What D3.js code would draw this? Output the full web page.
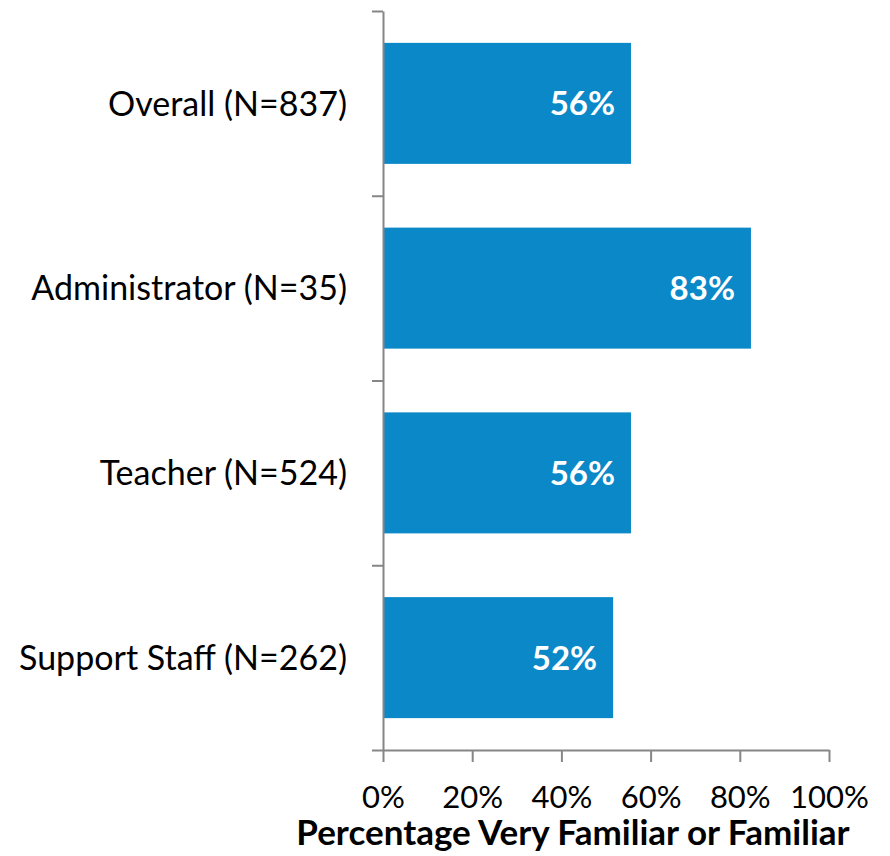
<!DOCTYPE html>
<html>
<head>
<meta charset="utf-8">
<script src="https://cdn.jsdelivr.net/npm/d3@7"></script>
<style>
  body { margin: 0; background: #fff; }
  svg text { font-family: Lato, "Open Sans", sans-serif; fill: #000; }
</style>
</head>
<body>
<div id="chart"></div>
<script>
// Data
const categories = ["Overall (N=837)", "Administrator (N=35)", "Teacher (N=524)", "Support Staff (N=262)"];
const values = [55.6, 82.5, 55.6, 51.6];
const xTicks = [0, 20, 40, 60, 80, 100];

const width = 890, height = 856;
const margin = { top: 11, right: 61, bottom: 106, left: 383 };
const innerWidth = width - margin.left - margin.right;
const innerHeight = height - margin.top - margin.bottom;
const barColor = "#0A88C8";
const axisColor = "#868686";

const svg = d3.select("#chart")
    .append("svg")
    .attr("width", width)
    .attr("height", height);

const innerChart = svg.append("g")
    .attr("transform", `translate(${margin.left},${margin.top})`);

/* scales */
const xScale = d3.scaleLinear()
    .domain([0, 100])
    .range([0, innerWidth]);

const yScale = d3.scaleBand()
    .domain(categories)
    .range([0, innerHeight])
    .paddingInner(0.345)
    .paddingOuter(0.1725);

const rows = categories.map((c, i) => ({ cat: c, val: values[i] }));

/* bars */
innerChart.selectAll("rect.bar")
    .data(rows)
    .join("rect")
        .attr("class", "bar")
        .attr("x", 0)
        .attr("y", d => yScale(d.cat))
        .attr("width", d => xScale(d.val))
        .attr("height", yScale.bandwidth())
        .attr("fill", barColor);

// value labels inside the bar end
innerChart.selectAll("text.val")
    .data(rows)
    .join("text")
        .attr("class", "val")
        .attr("x", d => xScale(d.val) - 16)
        .attr("y", d => yScale(d.cat) + yScale.bandwidth() / 2)
        .attr("dy", "0.36em")
        .attr("text-anchor", "end")
        .style("fill", "#fff")
        .style("font-weight", "bold")
        .style("font-size", "33px")
        .text(d => `${Math.round(d.val)}%`);

/* axes */
const bottomAxis = d3.axisBottom(xScale)
    .tickValues(xTicks)
    .tickFormat(d => `${d}%`)
    .tickSize(12)
    .tickSizeOuter(0)
    .tickPadding(24);

const xAxisG = innerChart.append("g")
    .attr("transform", `translate(0,${innerHeight})`)
    .call(bottomAxis);

// left axis: ticks at band boundaries, no labels on the ticks themselves
const leftAxis = d3.axisLeft(d3.scaleLinear().domain([0, categories.length]).range([0, innerHeight]))
    .ticks(categories.length)
    .tickFormat("")
    .tickSize(11)
    .tickSizeOuter(0);

const yAxisG = innerChart.append("g").call(leftAxis);

[xAxisG, yAxisG].forEach(g => {
    g.select(".domain").attr("stroke", axisColor).attr("stroke-width", 2);
    g.selectAll(".tick line").attr("stroke", axisColor).attr("stroke-width", 2);
});
xAxisG.selectAll(".tick text")
    .style("font-size", "31px")
    .style("font-family", "Lato, sans-serif")
    .attr("fill", "#000");

// category labels
innerChart.selectAll("text.cat")
    .data(rows)
    .join("text")
        .attr("class", "cat")
        .attr("x", -36)
        .attr("y", d => yScale(d.cat) + yScale.bandwidth() / 2)
        .attr("dy", "0.36em")
        .attr("text-anchor", "end")
        .style("font-size", "34px")
        .text(d => d.cat);

// axis title
svg.append("text")
    .text("Percentage Very Familiar or Familiar")
    .attr("x", 573)
    .attr("y", 845)
    .attr("text-anchor", "middle")
    .style("font-weight", "bold")
    .style("font-size", "35px");
</script>
</body>
</html>
